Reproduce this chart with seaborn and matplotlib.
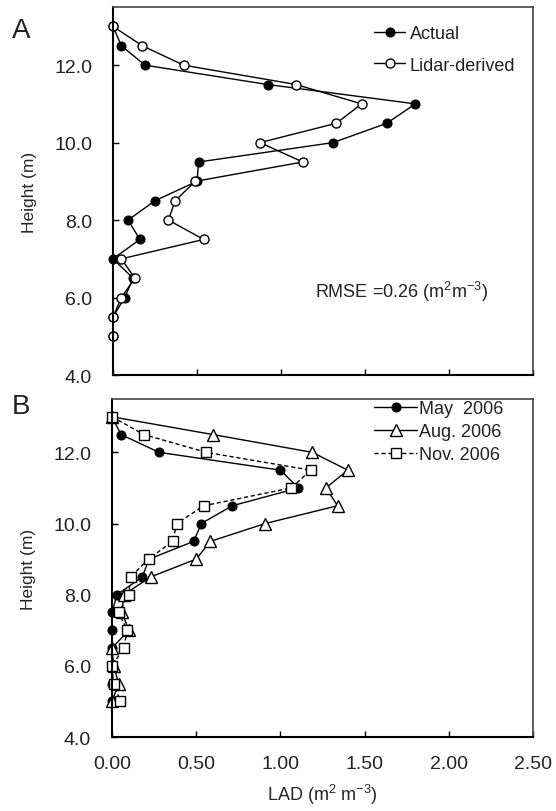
import numpy as np
import pandas as pd
import seaborn as sns
import matplotlib.pyplot as plt

# data
heights = [13.0, 12.5, 12.0, 11.5, 11.0, 10.5, 10.0, 9.5, 9.0,
           8.5, 8.0, 7.5, 7.0, 6.5, 6.0, 5.5, 5.0]

actual = [0.0, 0.05, 0.19, 0.92, 1.80, 1.63, 1.31, 0.51, 0.50,
          0.25, 0.09, 0.16, 0.0, 0.12, 0.07, 0.0, 0.0]
lidar = [0.0, 0.175, 0.42, 1.09, 1.48, 1.33, 0.875, 1.13, 0.49,
         0.37, 0.33, 0.54, 0.05, 0.13, 0.05, 0.0, 0.0]

may06 = [0.0, 0.054, 0.28, 1.0, 1.107, 0.715, 0.53, 0.486, 0.22,
         0.18, 0.03, 0.0, 0.0, 0.0, 0.0, 0.0, 0.0]
aug06 = [0.0, 0.60, 1.19, 1.40, 1.27, 1.34, 0.91, 0.585, 0.50,
         0.23, 0.07, 0.06, 0.10, 0.0, 0.01, 0.04, 0.0]
nov06 = [0.0, 0.19, 0.56, 1.18, 1.065, 0.545, 0.385, 0.36, 0.217,
         0.11, 0.10, 0.04, 0.09, 0.07, 0.0, 0.01, 0.05]

x_ticks = [0.0, 0.5, 1.0, 1.5, 2.0, 2.5]
x_labels = ['0.00', '0.50', '1.00', '1.50', '2.00', '2.50']
y_ticks = [4.0, 6.0, 8.0, 10.0, 12.0]
y_labels = ['4.0', '6.0', '8.0', '10.0', '12.0']

sns.set_style('ticks')
plt.rcParams['font.family'] = ['Liberation Sans', 'DejaVu Sans']
plt.rcParams['mathtext.fontset'] = 'custom'
plt.rcParams['mathtext.rm'] = 'Liberation Sans'
plt.rcParams['mathtext.it'] = 'Liberation Sans:italic'
plt.rcParams['text.color'] = '#222222'

fig = plt.figure(figsize=(5.56, 8.12), dpi=100)
ax_a = fig.add_axes([0.2032, 0.5369, 0.7554, 0.4532])
ax_b = fig.add_axes([0.2014, 0.0911, 0.7572, 0.4163])

df_a = pd.DataFrame({'h': heights, 'actual': actual, 'lidar': lidar})
df_b = pd.DataFrame({'h': heights, 'may': may06, 'aug': aug06, 'nov': nov06})

lw = 1.0
# Panel A
sns.lineplot(data=df_a, x='actual', y='h', sort=False, estimator=None, ax=ax_a,
             color='black', lw=lw, marker='o', markersize=6.5,
             markerfacecolor='black', markeredgecolor='black',
             label='Actual', clip_on=False)
sns.lineplot(data=df_a, x='lidar', y='h', sort=False, estimator=None, ax=ax_a,
             color='black', lw=lw, marker='o', markersize=6.5,
             markerfacecolor='white', markeredgecolor='black', markeredgewidth=1.0,
             label='Lidar-derived', clip_on=False)

# Panel B
sns.lineplot(data=df_b, x='may', y='h', sort=False, estimator=None, ax=ax_b,
             color='black', lw=lw, marker='o', markersize=6.5,
             markerfacecolor='black', markeredgecolor='black',
             label='May  2006', clip_on=False)
sns.lineplot(data=df_b, x='aug', y='h', sort=False, estimator=None, ax=ax_b,
             color='black', lw=lw, marker='^', markersize=8,
             markerfacecolor='white', markeredgecolor='black', markeredgewidth=1.0,
             label='Aug. 2006', clip_on=False)
sns.lineplot(data=df_b, x='nov', y='h', sort=False, estimator=None, ax=ax_b,
             color='black', lw=lw, marker='s', markersize=6.5, linestyle=(0, (3, 2)),
             markerfacecolor='white', markeredgecolor='black', markeredgewidth=1.0,
             label='Nov. 2006', clip_on=False)

for ax in (ax_a, ax_b):
    ax.set_xlim(0, 2.5)
    ax.set_ylim(4.0, 13.5)
    ax.set_xticks(x_ticks)
    ax.set_yticks(y_ticks)
    ax.set_yticklabels(y_labels)
    ax.tick_params(direction='in', length=4, width=1, colors='black',
                   labelsize=14, labelcolor='#222222')
    ax.tick_params(axis='y', pad=15)
    ax.tick_params(axis='x', pad=13)
    ax.set_ylabel('Height (m)', fontsize=12.5, labelpad=12)
    ax.set_xlabel('')
    for s in ('left', 'bottom'):
        ax.spines[s].set_color('black')
        ax.spines[s].set_linewidth(1.5)
    for s in ('top', 'right'):
        ax.spines[s].set_visible(True)
        ax.spines[s].set_color('#444444')
        ax.spines[s].set_linewidth(1.2)

ax_a.set_xticklabels([])
ax_b.set_xticklabels(x_labels)
ax_b.set_xlabel(r'LAD (m$^{2}$ m$^{-3}$)', fontsize=13, labelpad=7)

ax_a.legend(loc='upper left', bbox_to_anchor=(0.605, 0.97), frameon=False,
            fontsize=13, handlelength=1.7, handletextpad=0.25, labelspacing=0.8,
            borderaxespad=0.0)
ax_b.legend(loc='upper left', bbox_to_anchor=(0.605, 1.018), frameon=False,
            fontsize=13, handlelength=2.4, handletextpad=0.12, labelspacing=0.33,
            borderaxespad=0.0)

ax_a.text(0.48, 0.228, r'RMSE =0.26 (m$^{2}$m$^{-3}$)', transform=ax_a.transAxes,
          fontsize=13, va='center')

fig.text(0.022, 0.953, 'A', fontsize=20)
fig.text(0.022, 0.49, 'B', fontsize=20)

fig.savefig('out.png', dpi=100)
